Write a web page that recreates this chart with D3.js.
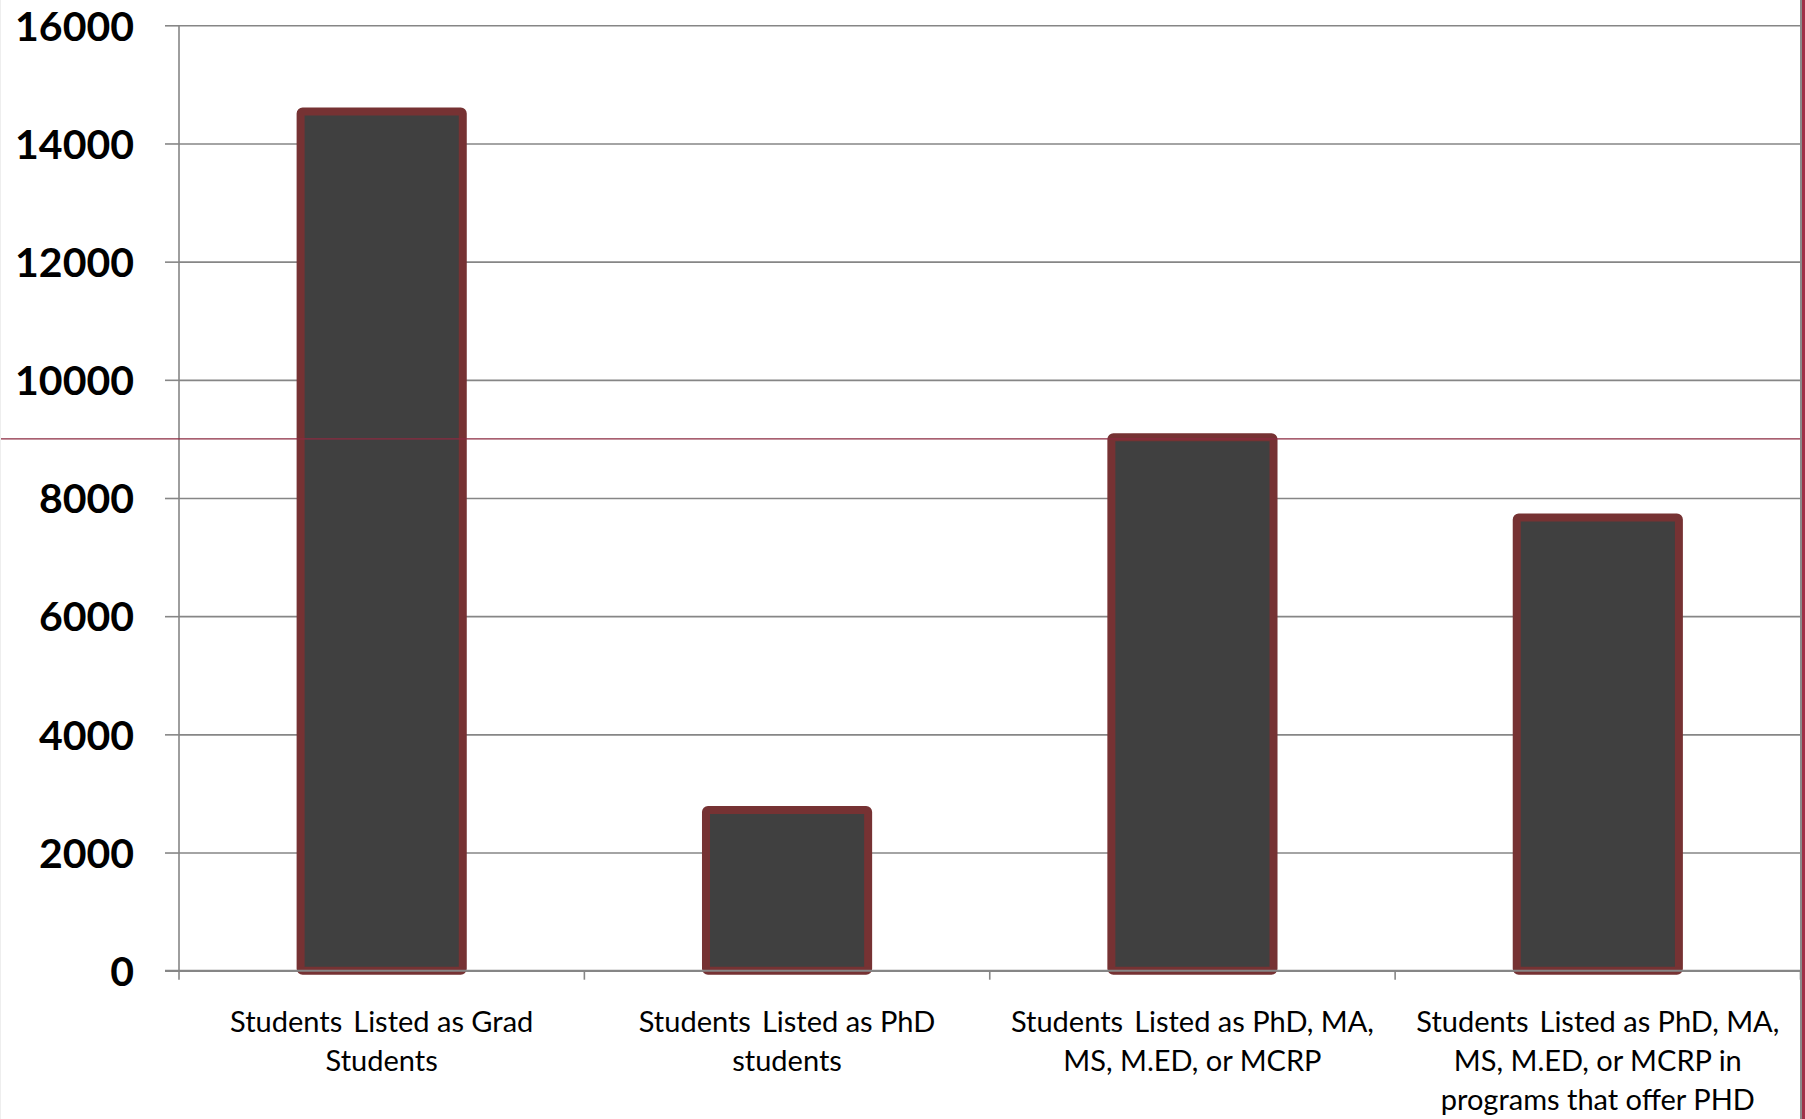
<!DOCTYPE html>
<html>
<head>
<meta charset="utf-8">
<script src="https://cdn.jsdelivr.net/npm/d3@7"></script>
<style>
  html, body { margin: 0; padding: 0; background: #fff; }
  svg { display: block; }
</style>
</head>
<body>
<svg id="chart" width="1805" height="1119"></svg>
<script>
// ---- data ----
const categories = [
  ["Students \u2009Listed as Grad", "Students"],
  ["Students \u2009Listed as PhD", "students"],
  ["Students \u2009Listed as PhD, MA,", "MS, M.ED, or MCRP"],
  ["Students \u2009Listed as PhD, MA,", "MS, M.ED, or MCRP in", "programs that offer PHD"]
];
const values = [14540, 2720, 9030, 7670];
const yTicks = [0, 2000, 4000, 6000, 8000, 10000, 12000, 14000, 16000];
const referenceLineValue = 9000;

// ---- layout ----
const W = 1805, H = 1119;
const plotLeft = 179, plotRight = 1800.5, plotTop = 25.3, plotBottom = 970.7;

const svg = d3.select("#chart");

const x = d3.scaleBand()
  .domain(d3.range(categories.length))
  .range([plotLeft, plotRight])
  .paddingInner(0.6)
  .paddingOuter(0.3);

const y = d3.scaleLinear().domain([0, 16000]).range([plotBottom, plotTop]);

// gridlines
const grid = svg.append("g")
  .attr("transform", `translate(${plotLeft},0)`)
  .call(d3.axisLeft(y).tickValues(yTicks).tickSize(-(plotRight - plotLeft)).tickFormat(""));
grid.select(".domain").remove();
grid.selectAll("line").attr("stroke", "#868686").attr("stroke-width", 1.6);

// y tick marks (outside) + labels
const yt = svg.append("g")
  .attr("transform", `translate(${plotLeft},0)`)
  .call(d3.axisLeft(y).tickValues(yTicks).tickSize(14).tickPadding(31)
    .tickFormat(d3.format("d")));
yt.select(".domain").remove();
yt.selectAll("line").attr("stroke", "#868686").attr("stroke-width", 1.6);
yt.selectAll("text")
  .attr("font-family", "Lato, 'Open Sans', sans-serif")
  .attr("font-weight", "bold")
  .attr("font-size", 41)
  .attr("fill", "#000")
  .attr("dy", "0.36em");

// bars
svg.append("g").selectAll("rect")
  .data(values)
  .join("rect")
  .attr("x", (d, i) => x(i))
  .attr("width", x.bandwidth())
  .attr("y", d => y(d))
  .attr("height", d => y(0) - y(d))
  .attr("rx", 2)
  .attr("fill", "#404040")
  .attr("stroke", "#763233")
  .attr("stroke-width", 8);

// y axis line
svg.append("line")
  .attr("x1", plotLeft).attr("x2", plotLeft)
  .attr("y1", plotTop).attr("y2", plotBottom)
  .attr("stroke", "#868686").attr("stroke-width", 1.6);

// x axis
const boundaries = d3.range(categories.length + 1).map(i => plotLeft + i * x.step());
const xa = svg.append("g");
xa.append("line")
  .attr("x1", plotLeft - 14).attr("x2", plotRight)
  .attr("y1", y(0)).attr("y2", y(0))
  .attr("stroke", "#868686").attr("stroke-width", 2);
xa.selectAll("line.tick")
  .data(boundaries)
  .join("line")
  .attr("class", "tick")
  .attr("x1", d => d).attr("x2", d => d)
  .attr("y1", y(0)).attr("y2", y(0) + 9)
  .attr("stroke", "#868686").attr("stroke-width", 1.6);

// category labels
const labels = svg.append("g").selectAll("text")
  .data(categories)
  .join("text")
  .attr("x", (d, i) => x(i) + x.bandwidth() / 2)
  .attr("y", 1032)
  .attr("text-anchor", "middle")
  .attr("font-family", "Lato, 'Open Sans', sans-serif")
  .attr("font-size", 29)
  .attr("fill", "#000");
labels.selectAll("tspan")
  .data(d => d)
  .join("tspan")
  .attr("x", function () { return this.parentNode.getAttribute("x"); })
  .attr("dy", (d, j) => j === 0 ? 0 : 39)
  .text(d => d);

// thin reference line across the slide
svg.append("line")
  .attr("x1", 0).attr("x2", 1801)
  .attr("y1", y(referenceLineValue)).attr("y2", y(referenceLineValue))
  .attr("stroke", "#8b2a40").attr("stroke-width", 1.4);

// slide borders
svg.append("line").attr("x1", 0.5).attr("x2", 0.5).attr("y1", 0).attr("y2", H)
  .attr("stroke", "#eeeeee").attr("stroke-width", 1);
svg.append("rect").attr("x", 1800).attr("y", 0).attr("width", 2).attr("height", H).attr("fill", "#8a8a8a");
svg.append("rect").attr("x", 1802).attr("y", 0).attr("width", 3).attr("height", H).attr("fill", "#a03048");
</script>
</body>
</html>
